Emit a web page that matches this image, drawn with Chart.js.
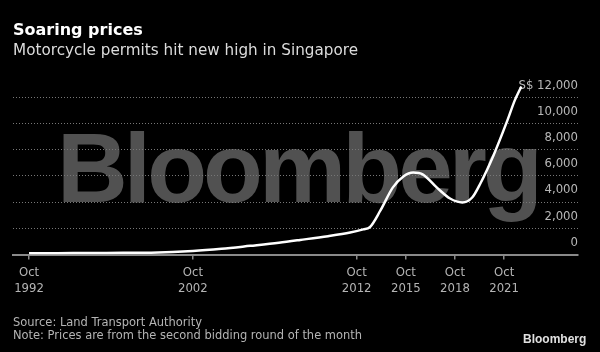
<!DOCTYPE html>
<html>
<head>
<meta charset="utf-8">
<script src="https://cdn.jsdelivr.net/npm/chart.js@4.4.0/dist/chart.umd.min.js"></script>
<style>
  html, body { margin: 0; padding: 0; background: #000; }
  #wrap { width: 600px; height: 352px; }
</style>
</head>
<body>
<div id="wrap"><canvas id="chart" width="600" height="352"></canvas></div>
<script>
const titleText = "Soaring prices";
const subtitleText = "Motorcycle permits hit new high in Singapore";
const sourceText = "Source: Land Transport Authority";
const noteText = "Note: Prices are from the second bidding round of the month";

// decimal years (Oct = .75) and permit price in S$
const years = [1992.75, 1994.5, 1996.5, 1998.5, 2000.2, 2002.75, 2004.5, 2006.25, 2008, 2009.3,
  2011, 2012.35, 2013.15, 2013.55, 2014.2, 2014.95, 2015.6, 2016.2, 2016.8, 2017.65,
  2018.45, 2019.2, 2019.8, 2020.3, 2021.1, 2021.95, 2022.4, 2022.8];
const prices = [90, 100, 115, 125, 140, 260, 430, 660, 900, 1110,
  1400, 1680, 1920, 2080, 3360, 5100, 5950, 6250, 6100, 5100,
  4270, 3970, 4350, 5420, 7560, 10230, 11760, 12820];

const tickYears = [1992.75, 2002.75, 2012.75, 2015.75, 2018.75, 2021.75];
const tickLabels = ["1992", "2002", "2012", "2015", "2018", "2021"];
const yTicks = [0, 2000, 4000, 6000, 8000, 10000, 12000];

const condensed = '"DejaVu Sans Condensed", "DejaVu Sans", sans-serif';
const logoFont = '"Liberation Sans", Arial, sans-serif';

const decor = {
  id: "decor",
  beforeDraw(chart) {
    const ctx = chart.ctx;
    ctx.save();
    ctx.setTransform(1, 0, 0, 1, 0, 0);
    ctx.fillStyle = "#000";
    ctx.fillRect(0, 0, chart.width, chart.height);

    // watermark, tight letter spacing so it fits 474px of ink
    ctx.textAlign = "left";
    ctx.textBaseline = "alphabetic";
    ctx.font = "bold 98px " + logoFont;
    let m = ctx.measureText("Bloomberg");
    const ink0 = m.actualBoundingBoxLeft + m.actualBoundingBoxRight;
    if ("letterSpacing" in ctx) {
      ctx.letterSpacing = ((474 - ink0) / 8).toFixed(2) + "px";
      m = ctx.measureText("Bloomberg");
    }
    const ink = m.actualBoundingBoxLeft + m.actualBoundingBoxRight;
    const sx = 474 / ink;
    ctx.translate(63 + m.actualBoundingBoxLeft * sx, 202);
    ctx.scale(sx, 1);
    ctx.fillStyle = "#515151";
    ctx.fillText("Bloomberg", 0, 0);
    ctx.restore();
  },
  afterDraw(chart) {
    const ctx = chart.ctx;
    ctx.save();
    ctx.textBaseline = "alphabetic";
    ctx.textAlign = "left";

    ctx.fillStyle = "#fff";
    ctx.font = 'bold 16px "DejaVu Sans", sans-serif';
    ctx.fillText(titleText, 13, 34.5);

    ctx.fillStyle = "#dcdcdc";
    ctx.font = '15.5px "DejaVu Sans", sans-serif';
    ctx.fillText(subtitleText, 13, 55, 345);

    ctx.fillStyle = "#b4b4b4";
    ctx.font = "13px " + condensed;
    ctx.fillText(sourceText, 13, 325.7, 189);
    ctx.fillText(noteText, 13, 339.3, 349);

    ctx.fillStyle = "#e0e0e0";
    ctx.font = "bold 12px " + logoFont;
    ctx.fillText("Bloomberg", 523, 343, 64);
    ctx.restore();
  }
};

new Chart(document.getElementById("chart"), {
  type: "line",
  data: {
    datasets: [{
      data: years.map((y, i) => ({ x: y, y: prices[i] })),
      borderColor: "#fff",
      borderWidth: 2.5,
      pointRadius: 0,
      cubicInterpolationMode: "monotone",
      fill: false
    }]
  },
  options: {
    responsive: false,
    animation: false,
    devicePixelRatio: 1,
    layout: { padding: { left: 13, right: 22, top: 71, bottom: 50 } },
    plugins: { legend: { display: false }, tooltip: { enabled: false } },
    scales: {
      x: {
        type: "linear",
        min: 1991.77,
        max: 2026.26,
        afterBuildTicks: (axis) => { axis.ticks = tickYears.map(v => ({ value: v })); },
        ticks: {
          autoSkip: false,
          maxRotation: 0,
          padding: 5,
          color: "#b4b4b4",
          font: { family: condensed, size: 13, lineHeight: 1.25 },
          callback: (v, i) => ["Oct", tickLabels[i]]
        },
        grid: { drawOnChartArea: false, drawTicks: true, tickLength: 5, color: "#8a8a8a", lineWidth: 1.5 },
        border: { display: true, color: "#8a8a8a", width: 2 }
      },
      y: {
        position: "right",
        min: 0,
        max: 14000,
        afterBuildTicks: (axis) => { axis.ticks = yTicks.map(v => ({ value: v })); },
        ticks: {
          mirror: true,
          padding: 0,
          labelOffset: -12,
          color: "#b8b8b8",
          font: { family: condensed, size: 13 },
          callback: (v) => v === 12000 ? "S$ 12,000" : v.toLocaleString("en-US")
        },
        grid: {
          drawTicks: false,
          lineWidth: 1,
          color: (c) => (c.tick && c.tick.value === 0) ? "rgba(0,0,0,0)" : "#777"
        },
        border: { display: false, dash: [1, 2] }
      }
    }
  },
  plugins: [decor]
});
</script>
</body>
</html>
